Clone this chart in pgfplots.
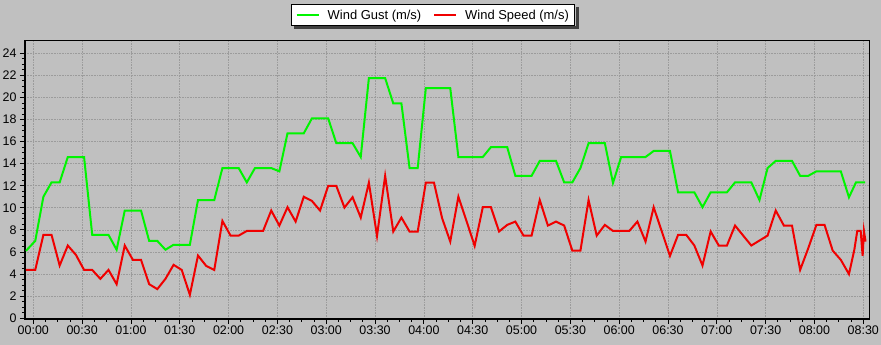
\documentclass[border=0pt]{standalone}
\usepackage{pgfplots}
\pgfplotsset{compat=1.18}
\usepackage{pgfplotstable}
\usepackage{fontspec}
\setmainfont{Liberation Sans}
\definecolor{bg}{RGB}{192,192,192}
\definecolor{gridc}{RGB}{155,155,155}
\definecolor{gust}{RGB}{0,245,0}
\definecolor{speed}{RGB}{240,0,0}

\pgfplotstableread{
t v
-4.5 6.1
1.2 7.0
6.2 11.0
11.2 12.3
16.2 12.3
21.2 14.6
26.2 14.6
31.2 14.6
36.2 7.55
41.2 7.55
46.2 7.55
51.2 6.2
56.2 9.75
61.2 9.75
66.2 9.75
71.2 7.0
76.2 7.0
81.2 6.2
86.2 6.65
91.2 6.65
96.2 6.65
101.2 10.7
106.2 10.7
111.2 10.7
116.2 13.6
121.2 13.6
126.2 13.6
131.2 12.3
136.2 13.6
141.2 13.6
146.2 13.6
151.2 13.3
156.2 16.75
161.2 16.75
166.2 16.75
171.2 18.1
176.2 18.1
181.2 18.1
186.2 15.85
191.2 15.85
196.2 15.85
201.2 14.6
206.2 21.75
211.2 21.75
216.2 21.75
221.2 19.45
226.2 19.45
231.2 13.6
236.2 13.6
241.2 20.85
246.2 20.85
251.2 20.85
256.2 20.85
261.2 14.6
266.2 14.6
271.2 14.6
276.2 14.6
281.2 15.5
286.2 15.5
291.2 15.5
296.2 12.9
301.2 12.9
306.2 12.9
311.2 14.25
316.2 14.25
321.2 14.25
326.2 12.3
331.2 12.3
336.2 13.6
341.2 15.85
346.2 15.85
351.2 15.85
356.2 12.25
361.2 14.6
366.2 14.6
371.2 14.6
376.2 14.6
381.2 15.15
386.2 15.15
391.2 15.15
396.2 11.4
401.2 11.4
406.2 11.4
411.2 10.05
416.2 11.4
421.2 11.4
426.2 11.4
431.2 12.3
436.2 12.3
441.2 12.3
446.2 10.7
451.2 13.6
456.2 14.25
461.2 14.25
466.2 14.25
471.2 12.9
476.2 12.9
481.2 13.3
486.2 13.3
491.2 13.3
496.2 13.3
501.2 10.95
505.5 12.3
511.2 12.3
}\gusttable

\pgfplotstableread{
t v
-4.5 4.37
1.2 4.37
6.2 7.55
11.2 7.55
16.2 4.77
21.2 6.58
26.2 5.73
31.2 4.37
36.2 4.37
41.2 3.56
46.2 4.37
51.2 3.08
56.2 6.58
61.2 5.28
66.2 5.28
71.2 3.08
76.2 2.63
81.2 3.56
86.2 4.83
91.2 4.37
96.2 2.11
101.2 5.67
106.2 4.74
111.2 4.37
116.2 8.81
121.2 7.48
126.2 7.48
131.2 7.9
136.2 7.9
141.2 7.9
146.2 9.75
151.2 8.39
156.2 10.05
161.2 8.75
166.2 11.0
171.2 10.62
176.2 9.75
181.2 11.98
186.2 11.98
191.2 10.02
196.2 10.96
201.2 9.11
206.2 12.28
211.2 7.45
216.2 12.89
221.2 7.85
226.2 9.11
231.2 7.85
236.2 7.85
241.2 12.28
246.2 12.28
251.2 9.06
256.2 6.94
261.2 11.0
266.2 8.8
271.2 6.55
276.2 10.05
281.2 10.05
286.2 7.85
291.2 8.45
296.2 8.75
301.2 7.48
306.2 7.48
311.2 10.7
316.2 8.39
321.2 8.75
326.2 8.39
331.2 6.12
336.2 6.12
341.2 10.7
346.2 7.48
351.2 8.45
356.2 7.9
361.2 7.9
366.2 7.9
371.2 8.75
376.2 6.94
381.2 10.05
386.2 7.85
391.2 5.64
396.2 7.55
401.2 7.55
406.2 6.58
411.2 4.77
416.2 7.85
421.2 6.58
426.2 6.58
431.2 8.39
436.2 7.48
441.2 6.58
446.2 7.03
451.2 7.48
456.2 9.75
461.2 8.39
466.2 8.39
471.2 4.37
476.2 6.34
481.2 8.45
486.2 8.45
491.2 6.12
496.2 5.28
501.2 3.99
504.5 6.2
506.3 7.9
508.4 7.9
509.6 5.64
510.4 7.9
511.4 6.94
}\speedtable

\begin{document}
\begin{tikzpicture}
\path[use as bounding box, fill=bg] (0,0) rectangle (881bp,345bp);
\begin{axis}[
  at={(25bp,26.3bp)}, anchor=south west,
  scale only axis, width=844.3bp, height=278bp,
  xmin=-5.1, xmax=513.7, ymin=-0.05, ymax=25.14,
  axis background/.style={fill=bg},
  axis line style={black, line width=1.6bp},
  xtick={0,30,...,510},
  xticklabels={00:00,00:30,01:00,01:30,02:00,02:30,03:00,03:30,04:00,04:30,05:00,05:30,06:00,06:30,07:00,07:30,08:00,08:30},
  ytick={0,2,...,24},
  minor x tick num=3, minor y tick num=3,
  tick pos=left, tick align=outside,
  major tick length=5bp, minor tick length=3bp,
  every tick/.style={black, line width=0.8bp},
  grid=major,
  major grid style={gridc, line width=0.6bp, dash pattern=on 0.7bp off 0.9bp},
  tick label style={font=\fontsize{12.5}{14}\selectfont, black},
  /pgf/number format/assume math mode=true,
  xticklabel style={yshift=1bp},
  legend columns=2,
  legend style={at={(0.4836,1.131)}, anchor=north, draw=black, fill=white,
    line width=0.8bp, name=leg,
    font=\fontsize{13}{15}\selectfont,
    inner xsep=4bp, inner ysep=3bp,
    /tikz/every even column/.append style={column sep=10bp}},
  legend image code/.code={\draw[#1, line width=2bp] (0bp,0bp) -- (22bp,0bp);},
]
\addplot[gust, line width=2bp] table[x=t, y=v] {\gusttable};
\addlegendentry{\hspace{6bp}Wind Gust (m/s)}
\addplot[speed, line width=2bp] table[x=t, y=v] {\speedtable};
\addlegendentry{\hspace{6bp}Wind Speed (m/s)}
\end{axis}
\fill[black!75] ([xshift=3bp,yshift=-3.4bp]leg.south west) rectangle ([xshift=3.4bp,yshift=-0.4bp]leg.south east);
\fill[black!75] ([xshift=0.4bp,yshift=-3bp]leg.north east) rectangle ([xshift=3.4bp,yshift=-0.4bp]leg.south east);
\end{tikzpicture}
\end{document}
